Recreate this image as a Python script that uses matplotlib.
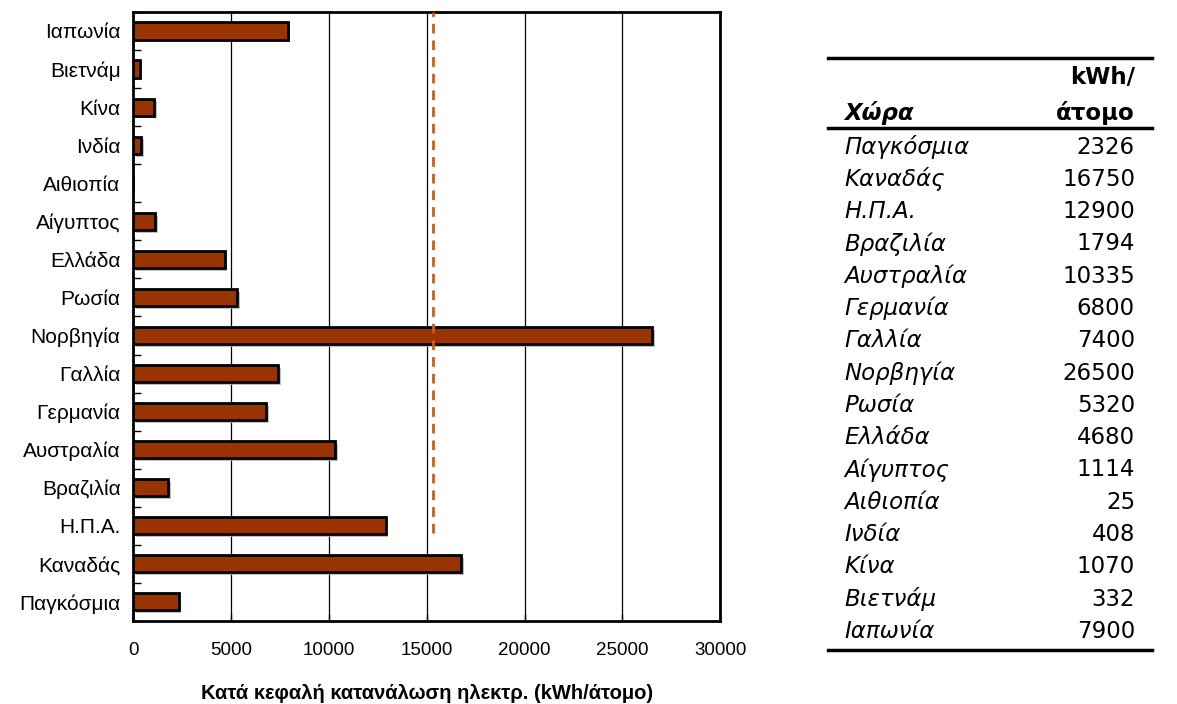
import numpy as np
import matplotlib.pyplot as plt
from matplotlib.lines import Line2D
import matplotlib.patheffects as pe

# κατανάλωση ηλεκτρικής ενέργειας ανά κάτοικο (kWh/άτομο)
countries = ['Παγκόσμια', 'Καναδάς', 'Η.Π.Α.', 'Βραζιλία', 'Αυστραλία', 'Γερμανία',
             'Γαλλία', 'Νορβηγία', 'Ρωσία', 'Ελλάδα', 'Αίγυπτος', 'Αιθιοπία',
             'Ινδία', 'Κίνα', 'Βιετνάμ', 'Ιαπωνία']
kwh = [2326, 16750, 12900, 1794, 10335, 6800, 7400, 26500, 5320, 4680, 1114, 25,
       408, 1070, 332, 7900]

ref_x = 15300       # κατακόρυφη διακεκομμένη γραμμή
ref_from = 1.8      # από το ύψος των Η.Π.Α. και πάνω

xticks = [0, 5000, 10000, 15000, 20000, 25000, 30000]

plt.rcParams['font.family'] = ['Liberation Sans', 'DejaVu Sans']

fig = plt.figure(figsize=(11.77, 7.04), dpi=100)
ax = fig.add_axes([0.113, 0.118, 0.499, 0.865])

y = np.arange(len(countries))
bars = ax.barh(y, kwh, height=0.45, color='#993300', edgecolor='black',
               linewidth=2, zorder=3)
for b in bars:
    b.set_path_effects([pe.SimplePatchShadow(offset=(2, -2), shadow_rgbFace='#b0b0b0', alpha=0.8),
                        pe.Normal()])

ax.plot([ref_x, ref_x], [ref_from, len(countries) - 0.5], color='#c0602a',
        linestyle=(0, (3.5, 2.5)), linewidth=2, zorder=4)

ax.set_xlim(0, 30000)
ax.set_ylim(-0.5, len(countries) - 0.5)
ax.set_xticks(xticks)
ax.set_xticklabels([str(t) for t in xticks], fontsize=13.5)
ax.set_yticks(y)
ax.set_yticklabels(countries, fontsize=15)
ax.set_yticks(np.arange(len(countries) + 1) - 0.5, minor=True)
ax.tick_params(axis='y', which='major', length=0, pad=9)
ax.tick_params(axis='y', which='minor', direction='in', length=6, width=1)
ax.tick_params(axis='x', direction='in', length=5, width=1, pad=15)
ax.xaxis.grid(True, color='black', linewidth=0.9, zorder=0)
ax.set_axisbelow(True)
for s in ax.spines.values():
    s.set_linewidth(2)

ax.set_xlabel('Κατά κεφαλή κατανάλωση ηλεκτρ. (kWh/άτομο)', fontsize=14.5,
              fontweight='bold', labelpad=18)

# πίνακας τιμών δεξιά
W, H = 1177, 704
def fx(px):
    return px / W
def fy(py):
    return 1 - py / H

tfont = ['DejaVu Sans']
fs = 16.5
x_left, x_right = 828, 1152
x_name, x_val = 844, 1135

fig.add_artist(Line2D([fx(x_left), fx(x_right)], [fy(58), fy(58)], color='black', linewidth=2.5))
fig.add_artist(Line2D([fx(x_left), fx(x_right)], [fy(128), fy(128)], color='black', linewidth=2.5))
fig.add_artist(Line2D([fx(x_left), fx(x_right)], [fy(650), fy(650)], color='black', linewidth=2.5))

fig.text(fx(x_val), fy(77), 'kWh/', ha='right', va='center', fontsize=fs,
         fontweight='bold', family=tfont)
fig.text(fx(x_val), fy(113), 'άτομο', ha='right', va='center', fontsize=fs,
         fontweight='bold', family=tfont)
fig.text(fx(x_name), fy(113), 'Χώρα', ha='left', va='center', fontsize=fs,
         fontweight='bold', style='italic', family=tfont)

row0, step = 147, 32.3
for i, (c, v) in enumerate(zip(countries, kwh)):
    yy = fy(row0 + i * step)
    fig.text(fx(x_name), yy, c, ha='left', va='center', fontsize=fs,
             style='italic', family=tfont)
    fig.text(fx(x_val), yy, str(v), ha='right', va='center', fontsize=fs, family=tfont)

fig.savefig('out.png', dpi=100)
